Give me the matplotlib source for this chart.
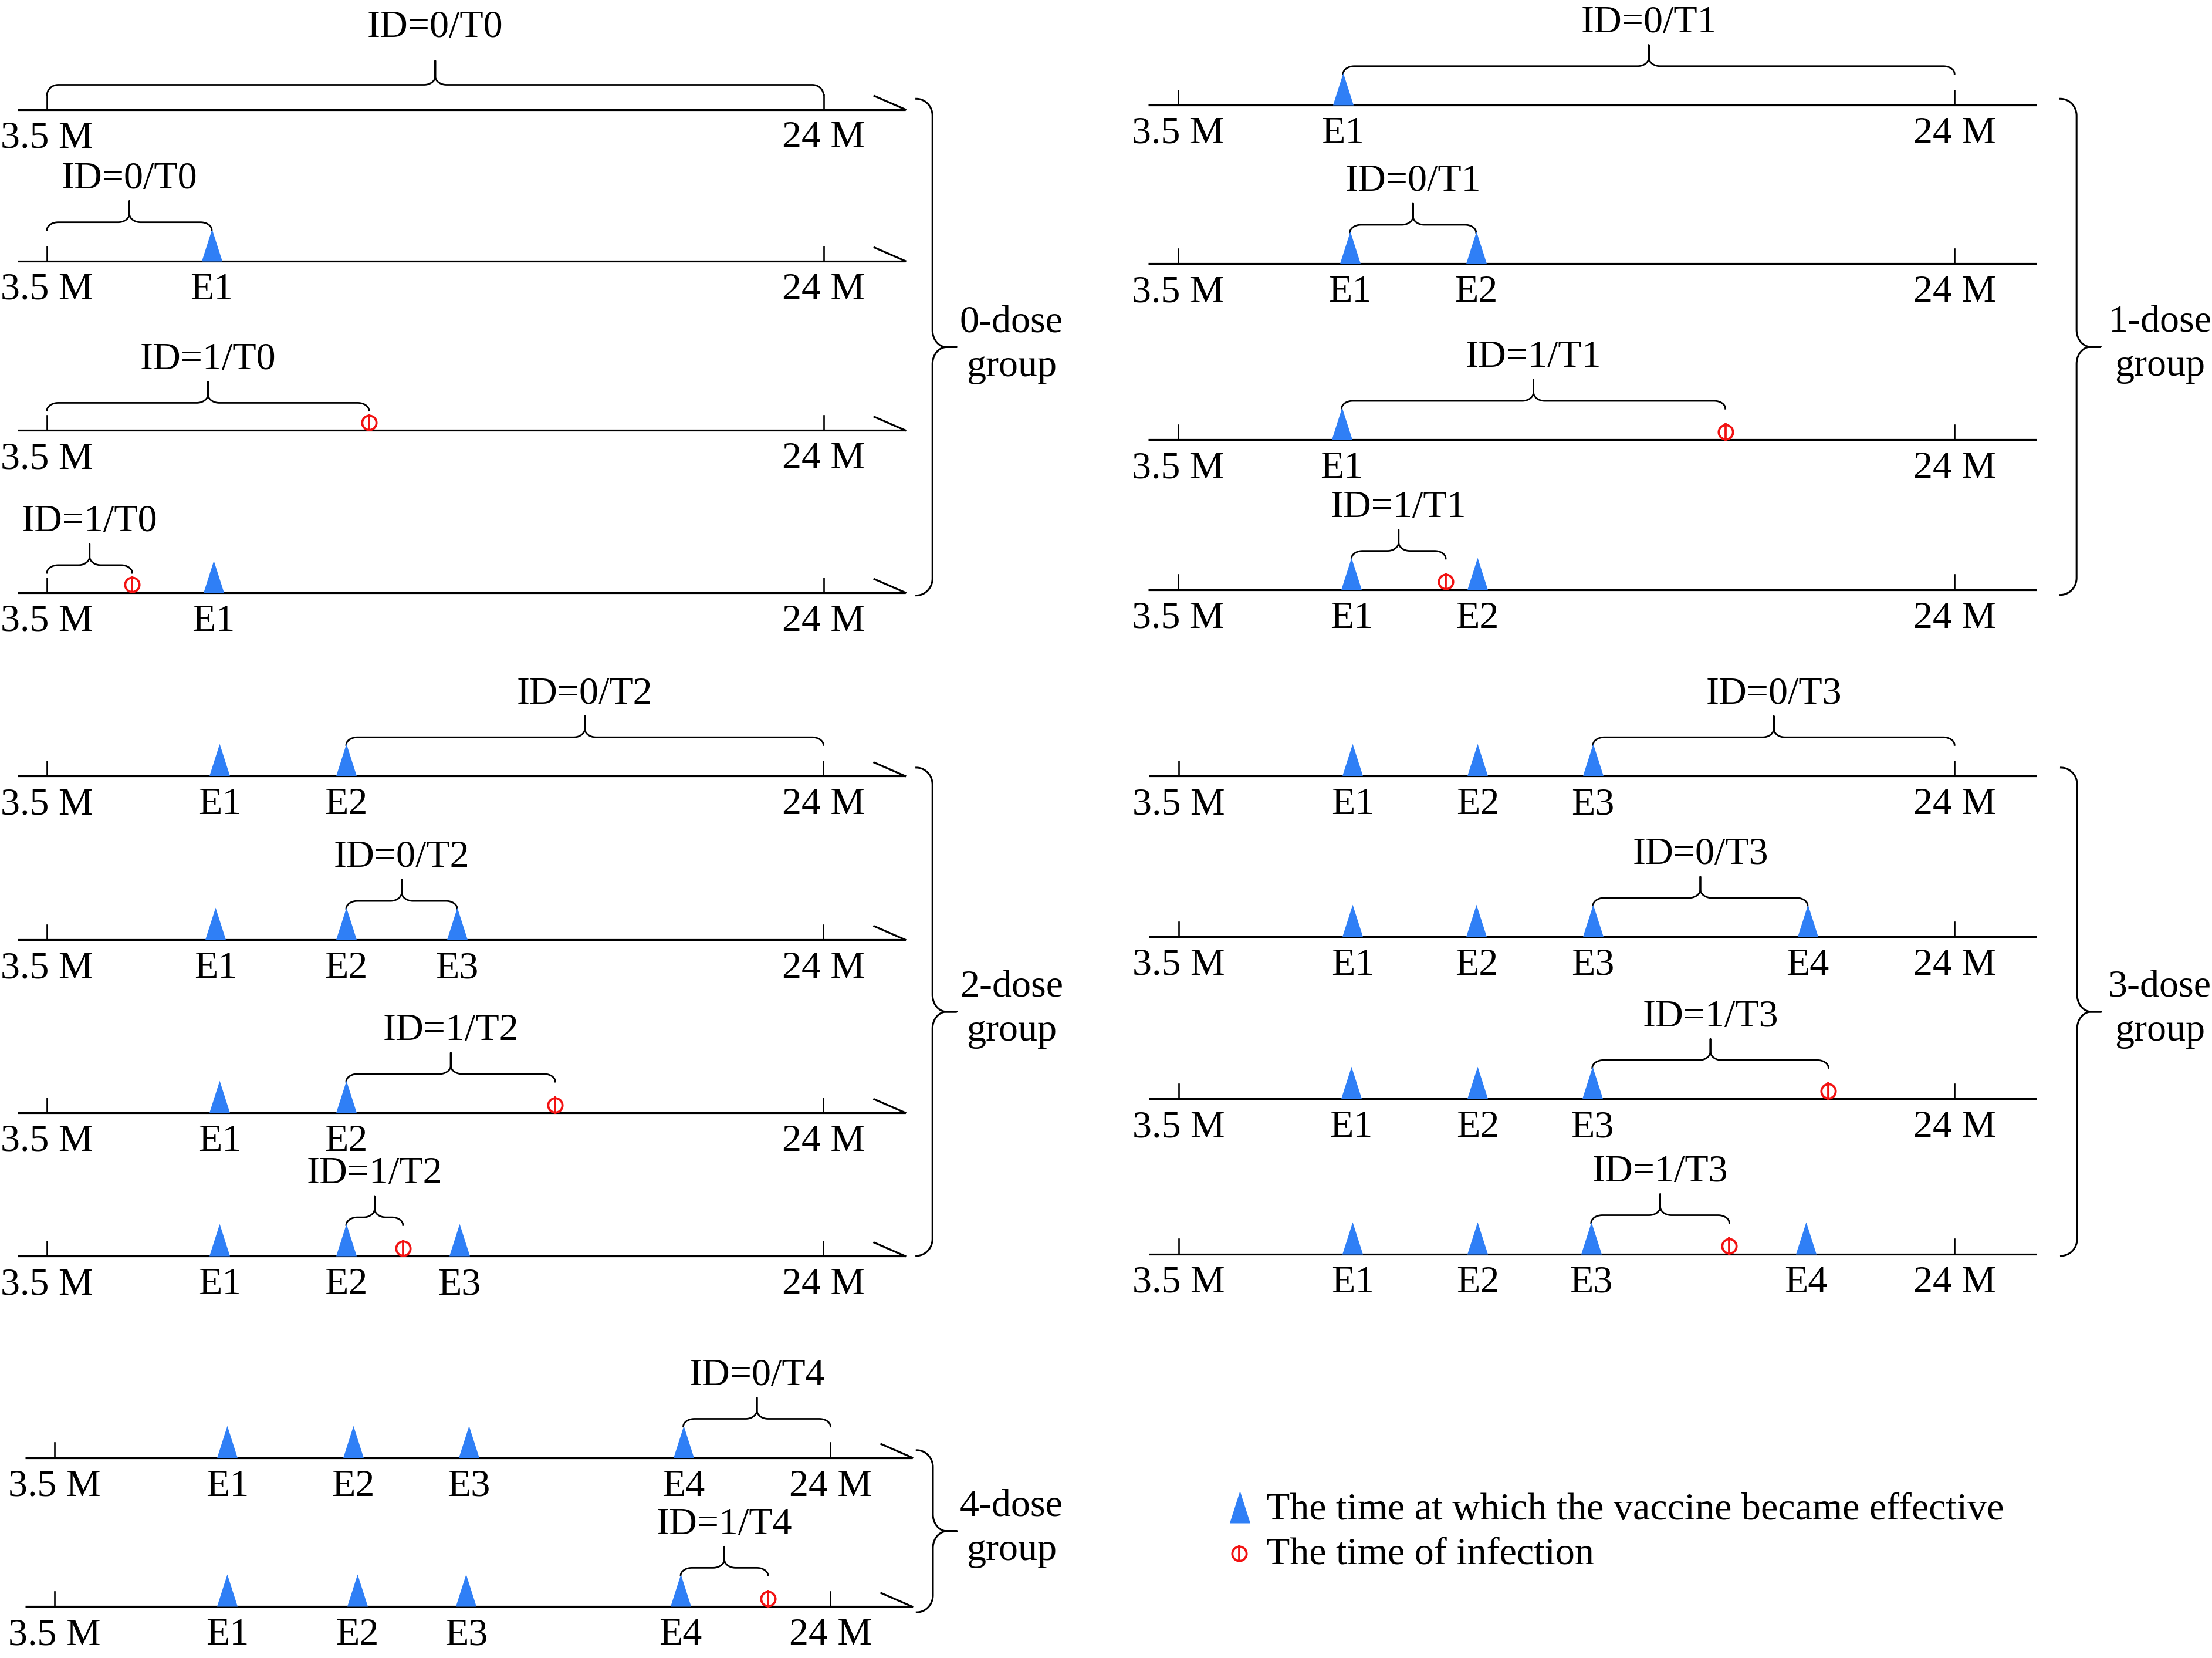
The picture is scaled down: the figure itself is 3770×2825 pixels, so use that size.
"""
Timeline diagram: vaccine effective times (E1..E4) and infection times per dose group.
"""
import numpy as np
import matplotlib
matplotlib.use("Agg")
import matplotlib.pyplot as plt

plt.rcParams["font.family"] = ["Liberation Serif", "DejaVu Serif"]

# ---- data (months) ---------------------------------------------------------
START_M, END_M = 3.5, 24.0

DOSE0_EFFECTIVE = [[], [7.85], [], [7.89]]
DOSE0_INFECTION = [None, None, 12.0, 5.75]
DOSE0_SPAN = [(3.5, 24.0), (3.5, 7.85), (3.5, 12.0), (3.5, 5.75)]
DOSE0_IDS = ["ID=0/T0", "ID=0/T0", "ID=1/T0", "ID=1/T0"]

DOSE1_EFFECTIVE = [[7.86], [8.04, 11.37], [7.82], [8.08, 11.40]]
DOSE1_INFECTION = [None, None, 17.95, 10.57]
DOSE1_SPAN = [(7.86, 24.0), (8.04, 11.37), (7.82, 17.95), (8.08, 10.57)]
DOSE1_IDS = ["ID=0/T1", "ID=0/T1", "ID=1/T1", "ID=1/T1"]

DOSE2_EFFECTIVE = [[8.06, 11.40], [7.95, 11.40, 14.33], [8.06, 11.40], [8.06, 11.40, 14.39]]
DOSE2_INFECTION = [None, None, 16.92, 12.90]
DOSE2_SPAN = [(11.40, 24.0), (11.40, 14.33), (11.40, 16.92), (11.40, 12.90)]
DOSE2_IDS = ["ID=0/T2", "ID=0/T2", "ID=1/T2", "ID=1/T2"]

DOSE3_EFFECTIVE = [[8.10, 11.40, 14.45], [8.10, 11.37, 14.45, 20.12],
                   [8.06, 11.40, 14.43], [8.10, 11.40, 14.40, 20.07]]
DOSE3_INFECTION = [None, None, 20.67, 18.05]
DOSE3_SPAN = [(14.45, 24.0), (14.45, 20.12), (14.43, 20.67), (14.40, 18.05)]
DOSE3_IDS = ["ID=0/T3", "ID=0/T3", "ID=1/T3", "ID=1/T3"]

DOSE4_EFFECTIVE = [[8.06, 11.38, 14.44, 20.11], [8.06, 11.49, 14.37, 20.04]]
DOSE4_INFECTION = [None, 22.35]
DOSE4_SPAN = [(20.11, 24.0), (20.04, 22.35)]
DOSE4_IDS = ["ID=0/T4", "ID=1/T4"]

GROUP_LABELS = ["0-dose", "1-dose", "2-dose", "3-dose", "4-dose"]
LEGEND_LABELS = ["The time at which the vaccine became effective",
                 "The time of infection"]

# ---- style / layout --------------------------------------------------------
W, H = 1568, 1175          # layout frame (reference units)
BLUE = "#2F7FF6"
RED = "#F21212"
FS = 47.5
LW = 2.3
TRI = [(-0.32, 0), (0.32, 0), (0, 1)]
END_H = {"tick": 10, "eff": 22, "inf": 14}

fig = plt.figure(figsize=(37.7, 28.25), dpi=100)
fig.patch.set_facecolor("white")

ax_o = fig.add_axes([0, 0, 1, 1])
ax_o.set_xlim(0, W)
ax_o.set_ylim(H, 0)
ax_o.axis("off")


def brace_curve(length, hook, hook_len, cusp, tip_len, tip_w):
    t = np.linspace(0, np.pi / 2, 24)
    mid = length / 2
    u = np.r_[hook_len * (1 - np.cos(t)),
              mid - tip_len + tip_len * np.sin(t), mid]
    v = np.r_[hook * np.sin(t), hook + tip_w * (1 - np.cos(t)), hook + cusp]
    return np.r_[u, length - u[::-1]], np.r_[v, v[::-1]]


def infection_mark(ax, x, y, ms=17.5):
    ax.plot(x, y, ls="none", marker="o", ms=ms, mfc="none", mec=RED,
            mew=2.7, clip_on=False, zorder=4)
    ax.plot(x, y, ls="none", marker="|", ms=ms + 4, mec=RED, mew=2.7,
            clip_on=False, zorder=4)


def draw_panel(x35, x24, rows_y, effective, infection, span, ids, slash):
    ax = fig.add_axes([x35 / W, 0, (x24 - x35) / W, 1])
    ax.set_xlim(START_M, END_M)
    ax.set_ylim(H, 0)
    ax.axis("off")
    kx = (END_M - START_M) / (x24 - x35)
    kw = dict(color="black", clip_on=False)

    for y, eff, inf, (s0, s1), lab in zip(rows_y, effective, infection, span, ids):
        ax.plot([START_M - 21 * kx, END_M + 58 * kx], [y, y], lw=LW,
                solid_capstyle="butt", **kw)
        if slash:
            ax.plot([END_M + 36 * kx, END_M + 58 * kx], [y - 9.6, y], lw=LW, **kw)
        for m, txt in ((START_M, "3.5 M"), (END_M, "24 M")):
            ax.plot([m, m], [y, y - 10.5], lw=1.9, **kw)
            ax.text(m, y + 27, txt, fontsize=FS, ha="center", va="baseline")

        ax.plot(eff, [y] * len(eff), ls="none", marker=TRI, ms=79, color=BLUE,
                mew=0, clip_on=False, zorder=3)
        for i, m in enumerate(eff):
            ax.text(m, y + 27, f"E{i + 1}", fontsize=FS, ha="center", va="baseline")
        if inf is not None:
            infection_mark(ax, inf, y - 5.6)

        def kind(m):
            if m in eff:
                return "eff"
            if inf is not None and m == inf:
                return "inf"
            return "tick"

        ends = (kind(s0), kind(s1))
        base = max(END_H[ends[0]], END_H[ends[1]])
        hook = 7.5 if ends == ("tick", "tick") else 5.5
        cusp = 17 if ends == ("tick", "tick") else 15
        u, v = brace_curve((s1 - s0) / kx, hook=hook, hook_len=8, cusp=cusp,
                           tip_len=8, tip_w=6)
        ax.plot(s0 + u * kx, y - base - v, lw=2.0, **kw)
        gap = 17 if ends == ("tick", "tick") else 9
        ax.text((s0 + s1) / 2, y - base - hook - cusp - gap, lab, fontsize=FS,
                ha="center", va="baseline")


def group_brace(sx, top, bottom, label_x, label):
    u, v = brace_curve(bottom - top, hook=11.5, hook_len=12, cusp=17,
                       tip_len=12, tip_w=10)
    ax_o.plot(sx - 11.5 + v, top + u, color="black", lw=2.2)
    cy = (top + bottom) / 2
    ax_o.text(label_x, cy - 11, label, fontsize=FS, ha="center", va="baseline")
    ax_o.text(label_x, cy + 20.5, "group", fontsize=FS, ha="center", va="baseline")


draw_panel(33.3, 583.8, [77.6, 185, 305, 420], DOSE0_EFFECTIVE, DOSE0_INFECTION,
           DOSE0_SPAN, DOSE0_IDS, True)
draw_panel(835, 1385.5, [74.4, 186.8, 311.6, 417.9], DOSE1_EFFECTIVE, DOSE1_INFECTION,
           DOSE1_SPAN, DOSE1_IDS, False)
draw_panel(33.3, 583.7, [550, 666, 788.6, 890.2], DOSE2_EFFECTIVE, DOSE2_INFECTION,
           DOSE2_SPAN, DOSE2_IDS, True)
draw_panel(835.4, 1385.5, [550, 663.8, 778.8, 888.7], DOSE3_EFFECTIVE, DOSE3_INFECTION,
           DOSE3_SPAN, DOSE3_IDS, False)
draw_panel(38.8, 588.7, [1033, 1138.6], DOSE4_EFFECTIVE, DOSE4_INFECTION,
           DOSE4_SPAN, DOSE4_IDS, True)

group_brace(661, 70, 422, 717, GROUP_LABELS[0])
group_brace(1472, 70, 421.6, 1531, GROUP_LABELS[1])
group_brace(661, 544, 890, 717, GROUP_LABELS[2])
group_brace(1472.4, 544, 890, 1531, GROUP_LABELS[3])
group_brace(661.3, 1027.7, 1142.6, 717, GROUP_LABELS[4])

# legend
ax_o.plot(879, 1079.5, ls="none", marker=TRI, ms=79, color=BLUE, mew=0)
ax_o.text(897.7, 1076.7, LEGEND_LABELS[0], fontsize=FS, va="baseline")
infection_mark(ax_o, 878.5, 1101)
ax_o.text(897.7, 1108.6, LEGEND_LABELS[1], fontsize=FS, va="baseline")

fig.savefig("out.png", dpi=100, facecolor="white")
